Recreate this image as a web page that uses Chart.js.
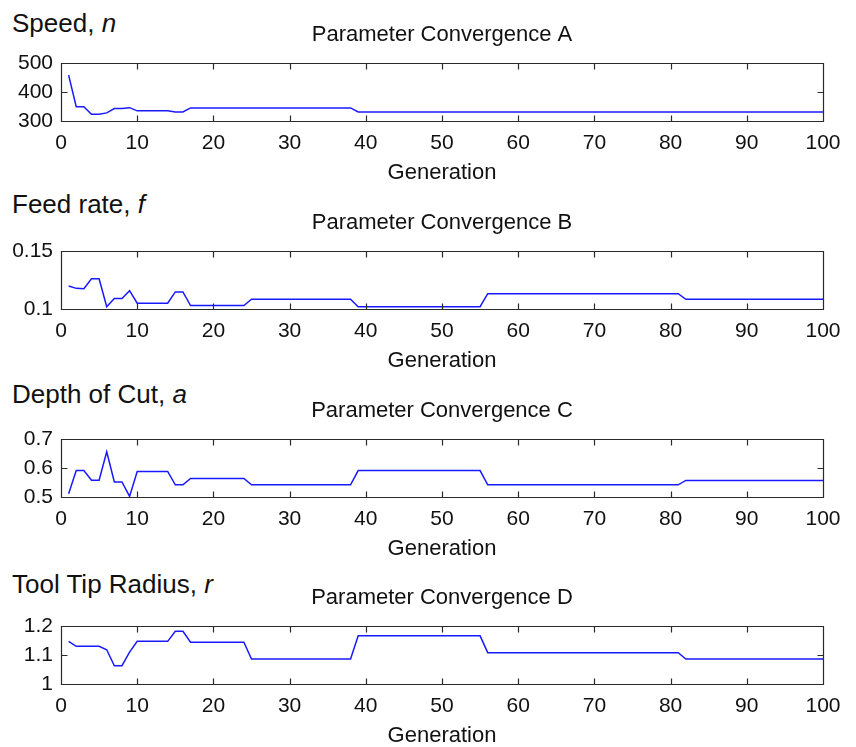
<!DOCTYPE html>
<html>
<head>
<meta charset="utf-8">
<script src="https://cdn.jsdelivr.net/npm/chart.js@4/dist/chart.umd.min.js"></script>
<style>
  html, body { margin: 0; padding: 0; background: #fff; }
  #page { position: relative; width: 856px; height: 747px; overflow: hidden; font-family: Arial, "Liberation Sans", sans-serif; }
  .head { position: absolute; left: 12px; font-size: 26px; line-height: 26px; color: #111; white-space: nowrap; }
  .panel { position: absolute; left: 0; width: 856px; height: 191px; }
</style>
</head>
<body>
<div id="page">
  <div class="head" style="top:10px">Speed, <i>n</i></div>
  <div class="head" style="top:191px">Feed rate, <i>f</i></div>
  <div class="head" style="top:381px">Depth of Cut, <i>a</i></div>
  <div class="head" style="top:571px">Tool Tip Radius, <i>r</i></div>
  <div class="panel" style="top:0px"><canvas id="cA" width="856" height="191"></canvas></div>
  <div class="panel" style="top:188px"><canvas id="cB" width="856" height="191"></canvas></div>
  <div class="panel" style="top:376px"><canvas id="cC" width="856" height="191"></canvas></div>
  <div class="panel" style="top:563px"><canvas id="cD" width="856" height="191"></canvas></div>
</div>
<script>
// generation index 1..100 (x axis)
var generations = Array.from({length: 100}, function (_, i) { return i + 1; });

// Speed, n
var speedVals = [
  458, 349, 349, 323, 323, 328, 343, 343, 346, 335,
  335, 335, 335, 335, 331, 331, 345, 345, 345, 345,
  345, 345, 345, 345, 345, 345, 345, 345, 345, 345,
  345, 345, 345, 345, 345, 345, 345, 345, 331, 331,
  331, 331, 331, 331, 331, 331, 331, 331, 331, 331,
  331, 331, 331, 331, 331, 331, 331, 331, 331, 331,
  331, 331, 331, 331, 331, 331, 331, 331, 331, 331,
  331, 331, 331, 331, 331, 331, 331, 331, 331, 331,
  331, 331, 331, 331, 331, 331, 331, 331, 331, 331,
  331, 331, 331, 331, 331, 331, 331, 331, 331, 331
];

// Feed rate, f
var feedVals = [
  0.1198, 0.1178, 0.1175, 0.126, 0.126, 0.102, 0.109, 0.109, 0.1158, 0.105,
  0.105, 0.105, 0.105, 0.105, 0.1147, 0.1147, 0.103, 0.103, 0.103, 0.103,
  0.103, 0.103, 0.103, 0.103, 0.1084, 0.1084, 0.1084, 0.1084, 0.1084, 0.1084,
  0.1084, 0.1084, 0.1084, 0.1084, 0.1084, 0.1084, 0.1084, 0.1084, 0.102, 0.102,
  0.102, 0.102, 0.102, 0.102, 0.102, 0.102, 0.102, 0.102, 0.102, 0.102,
  0.102, 0.102, 0.102, 0.102, 0.102, 0.1132, 0.1132, 0.1132, 0.1132, 0.1132,
  0.1132, 0.1132, 0.1132, 0.1132, 0.1132, 0.1132, 0.1132, 0.1132, 0.1132, 0.1132,
  0.1132, 0.1132, 0.1132, 0.1132, 0.1132, 0.1132, 0.1132, 0.1132, 0.1132, 0.1132,
  0.1132, 0.1084, 0.1084, 0.1084, 0.1084, 0.1084, 0.1084, 0.1084, 0.1084, 0.1084,
  0.1084, 0.1084, 0.1084, 0.1084, 0.1084, 0.1084, 0.1084, 0.1084, 0.1084, 0.1084
];

// Depth of Cut, a
var depthVals = [
  0.511, 0.591, 0.591, 0.558, 0.558, 0.656, 0.552, 0.552, 0.502, 0.588,
  0.588, 0.588, 0.588, 0.588, 0.542, 0.542, 0.564, 0.564, 0.564, 0.564,
  0.564, 0.564, 0.564, 0.564, 0.542, 0.542, 0.542, 0.542, 0.542, 0.542,
  0.542, 0.542, 0.542, 0.542, 0.542, 0.542, 0.542, 0.542, 0.591, 0.591,
  0.591, 0.591, 0.591, 0.591, 0.591, 0.591, 0.591, 0.591, 0.591, 0.591,
  0.591, 0.591, 0.591, 0.591, 0.591, 0.542, 0.542, 0.542, 0.542, 0.542,
  0.542, 0.542, 0.542, 0.542, 0.542, 0.542, 0.542, 0.542, 0.542, 0.542,
  0.542, 0.542, 0.542, 0.542, 0.542, 0.542, 0.542, 0.542, 0.542, 0.542,
  0.542, 0.557, 0.557, 0.557, 0.557, 0.557, 0.557, 0.557, 0.557, 0.557,
  0.557, 0.557, 0.557, 0.557, 0.557, 0.557, 0.557, 0.557, 0.557, 0.557
];

// Tool Tip Radius, r
var radiusVals = [
  1.147, 1.13, 1.13, 1.13, 1.13, 1.118, 1.063, 1.063, 1.11, 1.147,
  1.147, 1.147, 1.147, 1.147, 1.182, 1.182, 1.144, 1.144, 1.144, 1.144,
  1.144, 1.144, 1.144, 1.144, 1.086, 1.086, 1.086, 1.086, 1.086, 1.086,
  1.086, 1.086, 1.086, 1.086, 1.086, 1.086, 1.086, 1.086, 1.166, 1.166,
  1.166, 1.166, 1.166, 1.166, 1.166, 1.166, 1.166, 1.166, 1.166, 1.166,
  1.166, 1.166, 1.166, 1.166, 1.166, 1.108, 1.108, 1.108, 1.108, 1.108,
  1.108, 1.108, 1.108, 1.108, 1.108, 1.108, 1.108, 1.108, 1.108, 1.108,
  1.108, 1.108, 1.108, 1.108, 1.108, 1.108, 1.108, 1.108, 1.108, 1.108,
  1.108, 1.086, 1.086, 1.086, 1.086, 1.086, 1.086, 1.086, 1.086, 1.086,
  1.086, 1.086, 1.086, 1.086, 1.086, 1.086, 1.086, 1.086, 1.086, 1.086
];

var fontFam = 'Arial, "Liberation Sans", sans-serif';
var inkColor = '#111';
var lineColor = 'rgb(25,25,255)';

// matlab style box with inward ticks on all four sides
var boxTicks = {
  id: 'boxTicks',
  afterDraw: function (chart) {
    var ctx = chart.ctx, a = chart.chartArea;
    var x = chart.scales.x, y = chart.scales.y;
    var L = Math.round(a.left) + 0.5, R = Math.round(a.right) + 0.5;
    var T = Math.round(a.top) + 0.5, B = Math.round(a.bottom) + 0.5;
    ctx.save();
    ctx.strokeStyle = '#2a2a2a';
    ctx.lineWidth = 1.2;
    ctx.beginPath();
    x.ticks.forEach(function (t) {
      if (t.value <= x.min || t.value >= x.max) return;
      var px = Math.round(x.getPixelForValue(t.value)) + 0.5;
      ctx.moveTo(px, B); ctx.lineTo(px, B - 6);
      ctx.moveTo(px, T); ctx.lineTo(px, T + 6);
    });
    y.ticks.forEach(function (t) {
      if (t.value <= y.min + 1e-9 || t.value >= y.max - 1e-9) return;
      var py = Math.round(y.getPixelForValue(t.value)) + 0.5;
      ctx.moveTo(L, py); ctx.lineTo(L + 6, py);
      ctx.moveTo(R, py); ctx.lineTo(R - 6, py);
    });
    ctx.rect(L, T, R - L, B - T);
    ctx.stroke();
    ctx.restore();
  }
};

function makePanel(id, title, vals, yMin, yMax, yStep) {
  var ctx = document.getElementById(id).getContext('2d');
  var pts = generations.map(function (g, i) { return {x: g, y: vals[i]}; });
  return new Chart(ctx, {
    type: 'line',
    data: {
      datasets: [{
        data: pts,
        borderColor: lineColor,
        borderWidth: 1.5,
        pointRadius: 0,
        tension: 0,
        fill: false
      }]
    },
    options: {
      responsive: false,
      animation: false,
      layout: { padding: { top: 21.8, left: 0, right: 33, bottom: 4.4 } },
      plugins: {
        legend: { display: false },
        tooltip: { enabled: false },
        title: {
          display: true,
          text: title,
          fullSize: false,
          color: inkColor,
          font: { family: fontFam, size: 22, weight: 'normal' },
          padding: { top: 0, bottom: 14.8 }
        }
      },
      scales: {
        x: {
          type: 'linear',
          min: 0,
          max: 100,
          border: { display: false },
          grid: { display: false, drawTicks: false },
          ticks: {
            stepSize: 10,
            padding: 10,
            color: inkColor,
            maxRotation: 0,
            font: { family: fontFam, size: 21 }
          },
          title: {
            display: true,
            text: 'Generation',
            color: inkColor,
            font: { family: fontFam, size: 22 },
            padding: { top: -6, bottom: 0 }
          }
        },
        y: {
          min: yMin,
          max: yMax,
          border: { display: false },
          grid: { display: false, drawTicks: false },
          afterFit: function (s) { s.width = 61; },
          ticks: {
            stepSize: yStep,
            autoSkip: false,
            padding: 8,
            color: inkColor,
            font: { family: fontFam, size: 21 },
            callback: function (v) { return String(+Number(v).toFixed(3)); }
          }
        }
      }
    },
    plugins: [boxTicks]
  });
}

makePanel('cA', 'Parameter Convergence A', speedVals, 300, 500, 100);
makePanel('cB', 'Parameter Convergence B', feedVals, 0.1, 0.15, 0.05);
makePanel('cC', 'Parameter Convergence C', depthVals, 0.5, 0.7, 0.1);
makePanel('cD', 'Parameter Convergence D', radiusVals, 1, 1.2, 0.1);
</script>
</body>
</html>
